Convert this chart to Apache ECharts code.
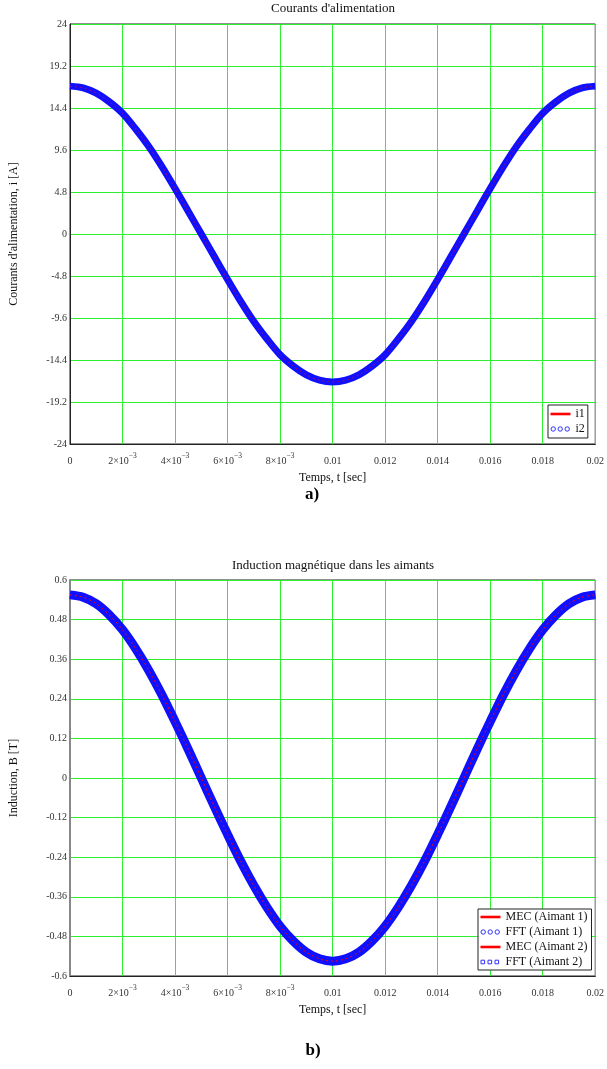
<!DOCTYPE html>
<html>
<head>
<meta charset="utf-8">
<script src="https://cdn.jsdelivr.net/npm/echarts@6/dist/echarts.min.js"></script>
<style>
html,body{margin:0;padding:0;background:#fff;}
#chart{width:607px;height:1069px;}
</style>
</head>
<body>
<div id="chart"></div>
<script>
// ---- data ----
const timeSec = [0,0.0005,0.001,0.0015,0.002,0.0025,0.003,0.0035,0.004,0.0045,
  0.005,0.0055,0.006,0.0065,0.007,0.0075,0.008,0.0085,0.009,0.0095,
  0.01,0.0105,0.011,0.0115,0.012,0.0125,0.013,0.0135,0.014,0.0145,
  0.015,0.0155,0.016,0.0165,0.017,0.0175,0.018,0.0185,0.019,0.0195,0.02];

const i1 = [16.9,16.7,16.1,15.1,13.8,12.0,10.0,7.7,5.2,2.6,
  0.0,-2.6,-5.2,-7.7,-10.0,-12.0,-13.8,-15.1,-16.1,-16.7,
  -16.9,-16.7,-16.1,-15.1,-13.8,-12.0,-10.0,-7.7,-5.2,-2.6,
  0.0,2.6,5.2,7.7,10.0,12.0,13.8,15.1,16.1,16.7,16.9];
const i2 = [16.9,16.7,16.1,15.1,13.8,12.0,10.0,7.7,5.2,2.6,
  0.0,-2.6,-5.2,-7.7,-10.0,-12.0,-13.8,-15.1,-16.1,-16.7,
  -16.9,-16.7,-16.1,-15.1,-13.8,-12.0,-10.0,-7.7,-5.2,-2.6,
  0.0,2.6,5.2,7.7,10.0,12.0,13.8,15.1,16.1,16.7,16.9];

const bMec1 = [0.555,0.548,0.528,0.494,0.449,0.392,0.326,0.252,0.171,0.087,
  0.0,-0.087,-0.171,-0.252,-0.326,-0.392,-0.449,-0.494,-0.528,-0.548,
  -0.555,-0.548,-0.528,-0.494,-0.449,-0.392,-0.326,-0.252,-0.171,-0.087,
  0.0,0.087,0.171,0.252,0.326,0.392,0.449,0.494,0.528,0.548,0.555];
const bFft1 = bMec1.slice();
const bMec2 = bMec1.slice();
const bFft2 = bMec1.slice();

const xTicks = [0,0.002,0.004,0.006,0.008,0.01,0.012,0.014,0.016,0.018,0.02];

// ---- chart ----
const FONT = "'Liberation Serif','Times New Roman',serif";
const GRID_GREEN = '#2ef02e';
const BLUE = '#1010ff';
const RED = '#ff0000';

function pairs(xs, ys){ return xs.map((x,k)=>[x, ys[k]]); }

function xLabel(v){
  if (Math.abs(v) < 1e-9) return '{b|0}';
  if (v < 0.0099) return '{b|' + Math.round(v*1000) + '×10}{sup|−3}';
  return '{b|' + parseFloat(v.toFixed(3)).toString() + '}';
}
function yLabelI(v){ return String(Math.round(v*10)/10); }
function yLabelB(v){ return String(Math.round(v*100)/100); }

const xAxisBase = {
  type:'value', min:0, max:0.02, interval:0.002,
  name:'Temps, t [sec]', nameLocation:'middle', nameGap:28,
  nameTextStyle:{fontFamily:FONT, fontSize:12, color:'#111'},
  axisLine:{show:true, onZero:false, lineStyle:{color:'#222', width:1}},
  axisTick:{show:false},
  splitLine:{show:true, lineStyle:{color:GRID_GREEN, width:1}},
  axisLabel:{
    formatter:xLabel, margin:8, showMinLabel:true, showMaxLabel:true,
    rich:{
      b:{fontFamily:FONT, fontSize:10, color:'#333', lineHeight:14, verticalAlign:'bottom'},
      sup:{fontFamily:FONT, fontSize:7.5, color:'#333', lineHeight:14, verticalAlign:'top'}
    }
  }
};

const ICON_LINE = 'path://M0,0L0,0M0,2.7h20v2.6h-20zM20,8L20,8';
const ICON_CIRC = 'path://M0,0L0,0M0.5,4a2.2,2.2 0 1,0 4.4,0a2.2,2.2 0 1,0 -4.4,0M7.5,4a2.2,2.2 0 1,0 4.4,0a2.2,2.2 0 1,0 -4.4,0M14.5,4a2.2,2.2 0 1,0 4.4,0a2.2,2.2 0 1,0 -4.4,0M20,8L20,8';
const ICON_SQ = 'path://M0,0L0,0M0.5,2.2h3.6v3.6h-3.6zM7.5,2.2h3.6v3.6h-3.6zM14.5,2.2h3.6v3.6h-3.6zM20,8L20,8';

const legendBase = {
  orient:'vertical', selectedMode:false,
  itemWidth:20, itemHeight:8, itemGap:3,
  backgroundColor:'#fff', borderColor:'#222', borderWidth:1, borderRadius:0,
  textStyle:{fontFamily:FONT, fontSize:12, color:'#111', lineHeight:12}
};
const lineItem = name => ({name, icon:ICON_LINE, itemStyle:{color:RED, borderWidth:0}});
const circItem = name => ({name, icon:ICON_CIRC, itemStyle:{color:'rgba(0,0,0,0)', borderColor:'#3333ff', borderWidth:1}});
const sqItem = name => ({name, icon:ICON_SQ, itemStyle:{color:'rgba(0,0,0,0)', borderColor:'#3333ff', borderWidth:1}});

const thick = (name, idx, data, w) => ({
  name, type:'line', xAxisIndex:idx, yAxisIndex:idx, data,
  smooth:0.3, showSymbol:false, symbol:'none',
  lineStyle:{color:BLUE, width:w}, itemStyle:{color:BLUE}, z:2, animation:false
});
const thin = (name, idx, data) => ({
  name, type:'line', xAxisIndex:idx, yAxisIndex:idx, data,
  smooth:0.3, showSymbol:false, symbol:'none',
  lineStyle:{color:RED, width:1, type:[2,3], opacity:0.6}, itemStyle:{color:RED}, z:3, animation:false
});

const option = {
  backgroundColor:'#fff',
  animation:false,
  title:[
    {text:"Courants d'alimentation", left:333, top:2, textAlign:'center', padding:0,
      textStyle:{fontFamily:FONT, fontSize:13, fontWeight:'normal', color:'#111'}},
    {text:'Induction magnétique dans les aimants', left:333, top:559, textAlign:'center', padding:0,
      textStyle:{fontFamily:FONT, fontSize:13, fontWeight:'normal', color:'#111'}},
    {text:'a)', left:312, top:486, textAlign:'center', padding:0,
      textStyle:{fontFamily:FONT, fontSize:17, fontWeight:'bold', color:'#000'}},
    {text:'b)', left:313, top:1042, textAlign:'center', padding:0,
      textStyle:{fontFamily:FONT, fontSize:17, fontWeight:'bold', color:'#000'}}
  ],
  grid:[
    {left:70, top:24, width:526, height:420, show:true, borderColor:'#222', borderWidth:1, backgroundColor:'#fff'},
    {left:70, top:580, width:527, height:396, show:true, borderColor:'#222', borderWidth:1, backgroundColor:'#fff'}
  ],
  xAxis:[
    Object.assign({}, xAxisBase, {gridIndex:0}),
    Object.assign({}, xAxisBase, {gridIndex:1})
  ],
  yAxis:[
    {type:'value', gridIndex:0, min:-24, max:24, interval:4.8,
      name:"Courants d'alimentation, i [A]", nameLocation:'middle', nameGap:50, nameRotate:90,
      nameTextStyle:{fontFamily:FONT, fontSize:12, color:'#111'},
      axisLine:{show:true, onZero:false, lineStyle:{color:'#222', width:1}},
      axisTick:{show:false},
      splitLine:{show:true, lineStyle:{color:GRID_GREEN, width:1}},
      axisLabel:{formatter:yLabelI, margin:3, fontFamily:FONT, fontSize:10, color:'#333'}},
    {type:'value', gridIndex:1, min:-0.6, max:0.6, interval:0.12,
      name:'Induction, B [T]', nameLocation:'middle', nameGap:50, nameRotate:90,
      nameTextStyle:{fontFamily:FONT, fontSize:12, color:'#111'},
      axisLine:{show:true, onZero:false, lineStyle:{color:'#888', width:2}},
      axisTick:{show:false},
      splitLine:{show:true, lineStyle:{color:GRID_GREEN, width:1}},
      axisLabel:{formatter:yLabelB, margin:3, fontFamily:FONT, fontSize:10, color:'#333'}}
  ],
  legend:[
    Object.assign({}, legendBase, {left:548, top:405, padding:[3,3,3,2],
      data:[lineItem('i1'), circItem('i2')]}),
    Object.assign({}, legendBase, {left:478, top:909, padding:[2,4,2,2],
      data:[lineItem('MEC (Aimant 1)'), circItem('FFT (Aimant 1)'), lineItem('MEC (Aimant 2)'), sqItem('FFT (Aimant 2)')]})
  ],
  series:[
    thick('i2', 0, pairs(timeSec, i2), 7),
    thin('i1', 0, pairs(timeSec, i1)),
    thick('FFT (Aimant 2)', 1, pairs(timeSec, bFft2), 9),
    thick('FFT (Aimant 1)', 1, pairs(timeSec, bFft1), 7),
    thin('MEC (Aimant 1)', 1, pairs(timeSec, bMec1)),
    thin('MEC (Aimant 2)', 1, pairs(timeSec, bMec2))
  ]
};

const chart = echarts.init(document.getElementById('chart'), null, {renderer:'canvas'});
chart.setOption(option);
</script>
</body>
</html>
